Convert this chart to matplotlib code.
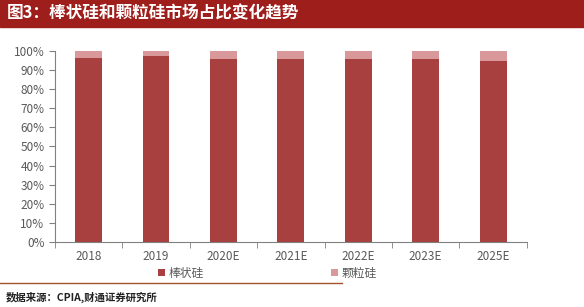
import numpy as np
import matplotlib.pyplot as plt
from matplotlib.patches import Rectangle
from matplotlib.ticker import PercentFormatter

plt.rcParams['font.family'] = ['Noto Sans CJK SC', 'DejaVu Sans']

# 数据
years = ['2018', '2019', '2020E', '2021E', '2022E', '2023E', '2025E']
rod = [0.962, 0.972, 0.960, 0.958, 0.958, 0.960, 0.946]
granular = [1 - v for v in rod]

c_rod = '#A8403F'
c_gran = '#D9999B'
c_title = '#9E1E1B'

fig = plt.figure(figsize=(5.84, 3.07), dpi=100)

# 标题栏
fig.patches.append(Rectangle((0, 0.912), 1, 0.088, transform=fig.transFigure,
                             color=c_title, zorder=0))
fig.text(0.012, 0.956, '图3：棒状硅和颗粒硅市场占比变化趋势', color='white',
         fontsize=12, fontweight='bold', va='center', ha='left')

ax = fig.add_axes([0.094, 0.212, 0.808, 0.622])
x = np.arange(len(years))
ax.bar(x, rod, width=0.4, color=c_rod, label='棒状硅')
ax.bar(x, granular, width=0.4, bottom=rod, color=c_gran, label='颗粒硅')

ax.set_xlim(-0.5, len(years) - 0.5)
ax.set_ylim(0, 1)
ax.set_yticks(np.arange(0, 1.01, 0.1))
ax.yaxis.set_major_formatter(PercentFormatter(1.0, decimals=0))
ax.set_xticks(x)
ax.set_xticklabels(years)
ax.set_xticks(np.arange(-0.5, len(years), 1), minor=True)
ax.tick_params(axis='x', which='major', length=0, pad=6)
ax.tick_params(axis='x', which='minor', length=4, direction='out', color='#808080')
ax.tick_params(axis='y', length=4, direction='out', color='#808080')
ax.tick_params(labelsize=8.5, labelcolor='#595959')
for s in ['top', 'right']:
    ax.spines[s].set_visible(False)
for s in ['left', 'bottom']:
    ax.spines[s].set_color('#808080')
    ax.spines[s].set_linewidth(0.8)

leg = ax.legend(loc='upper center', bbox_to_anchor=(0.45, -0.075), ncol=2,
                frameon=False, fontsize=8.5, handlelength=0.6, handleheight=0.6,
                handletextpad=0.3, columnspacing=10.8)
for t in leg.get_texts():
    t.set_color('#595959')

# 底部分隔线与来源
fig.add_artist(plt.Line2D([0, 0.585], [0.078, 0.078], transform=fig.transFigure,
                          color='#A0522D', linewidth=1))
fig.text(0.01, 0.033, '数据来源：CPIA,财通证券研究所', fontsize=7.5,
         fontweight='bold', va='center', ha='left', color='#222222')

fig.savefig('out.png', dpi=100)
